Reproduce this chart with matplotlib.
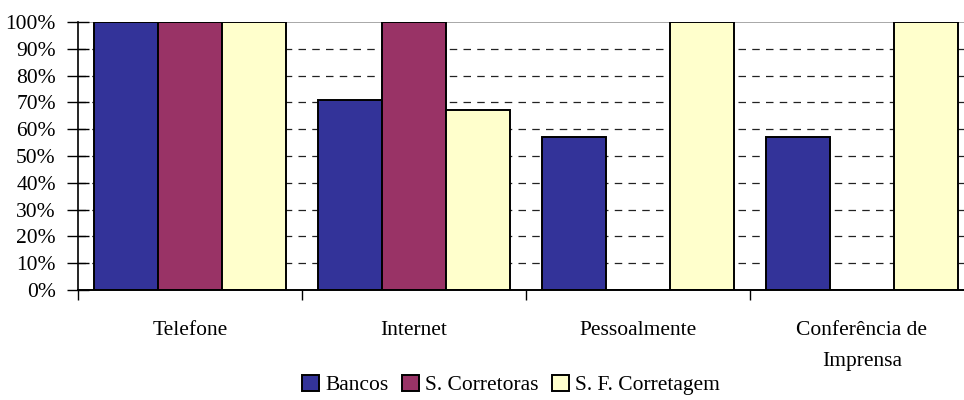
import numpy as np
import matplotlib
matplotlib.use("Agg")
import matplotlib.pyplot as plt
from matplotlib.ticker import FuncFormatter

plt.rcParams['font.family'] = ['Liberation Serif', 'DejaVu Serif']

categories = ["Telefone", "Internet", "Pessoalmente", "Conferência de\nImprensa"]
series = ["Bancos", "S. Corretoras", "S. F. Corretagem"]
bancos = [100, 71, 57, 57]
corretoras = [100, 100, 0, 0]
corretagem = [100, 67, 100, 100]
colors = ["#333399", "#993366", "#FFFFCC"]

W, H = 964, 400
fs = 15.5
fig = plt.figure(figsize=(W / 100, H / 100), dpi=100)
# plot area runs a little past the right edge of the figure
ax = fig.add_axes([78 / W, 1 - 290 / H, 896 / W, 268 / H])

x = np.arange(len(categories))
bw = 64 / 224
for i, (vals, c) in enumerate(zip([bancos, corretoras, corretagem], colors)):
    ax.bar(x + (i - 1) * bw, vals, bw, color=c, edgecolor="black",
           linewidth=1.4, label=series[i], zorder=3)

ax.set_xlim(-0.5, len(categories) - 0.5)
ax.set_ylim(0, 100)

# dashed gridlines, top one solid gray
for v in range(10, 100, 10):
    ax.axhline(v, color="#222222", lw=0.9, ls=(0, (6, 5)), zorder=1)
ax.axhline(100, color="#999999", lw=1.2, zorder=1)

for s in ["top", "right"]:
    ax.spines[s].set_visible(False)
ax.spines["left"].set_linewidth(1.2)
ax.spines["bottom"].set_linewidth(1.4)
ax.spines["bottom"].set_zorder(4)

ax.set_yticks(range(0, 101, 10))
ax.yaxis.set_major_formatter(FuncFormatter(lambda v, p: "%d%%" % v))
ax.tick_params(axis="y", direction="inout", length=16, width=1, pad=8,
               labelsize=fs)

ax.set_xticks(np.arange(len(categories) + 1) - 0.5)
ax.set_xticklabels([])
ax.tick_params(axis="x", direction="out", length=7, width=1)
for xi, lab in zip(x, categories):
    ax.text(xi, -11.5, lab, ha="center", va="top", fontsize=fs,
            linespacing=1.85, transform=ax.transData)

leg = fig.legend(loc="center", bbox_to_anchor=(511 / W, 1 - 385 / H), ncol=3,
                 frameon=False, fontsize=fs, handlelength=0.8,
                 handleheight=0.8, handletextpad=0.3, columnspacing=0.6)

fig.savefig("out.png", dpi=100)
